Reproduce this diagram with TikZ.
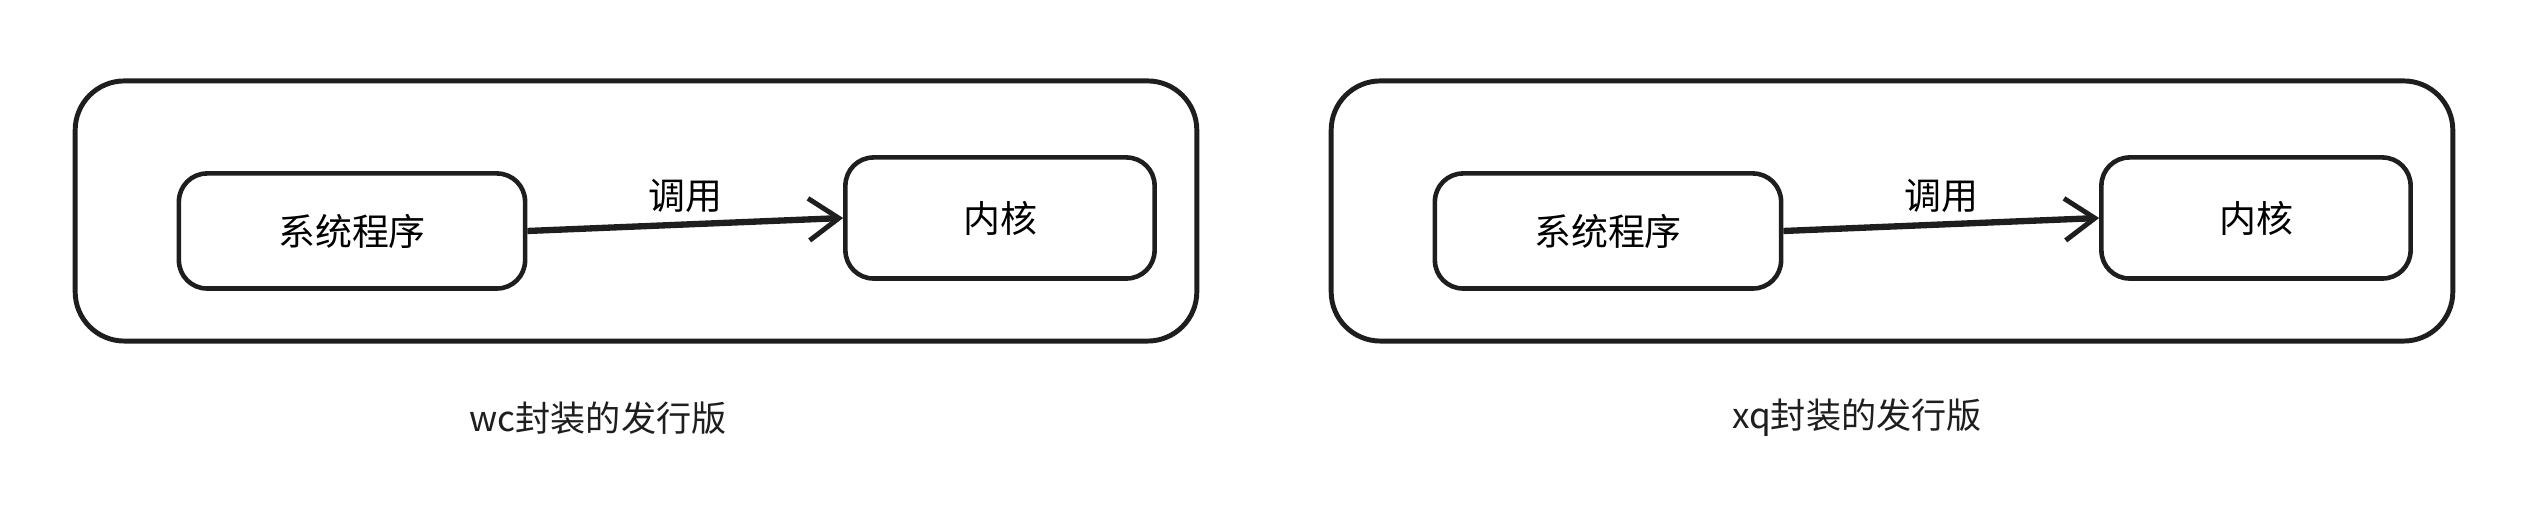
\documentclass[tikz,border=0pt]{standalone}
\usepackage{fontspec}
\setmainfont{Noto Sans CJK SC}
\usepackage{xcolor}
\usetikzlibrary{positioning,arrows.meta}
\definecolor{ink}{HTML}{1E1E1E}
\tikzset{
  distro/.style={rectangle,draw=ink,line width=1.4pt,rounded corners=14pt,
    minimum width=11.21cm,minimum height=2.6cm},
  box/.style={rectangle,draw=ink,line width=1.3pt,rounded corners=8pt,
    align=center,font=\fontsize{10.5}{12}\selectfont},
  fl/.style={-{Straight Barb[length=3mm,width=4.2mm,line width=1.4pt]},draw=ink,line width=1.8pt},
  captext/.style={font=\fontsize{10}{12}\selectfont,text=ink},
}
\begin{document}
\begin{tikzpicture}[x=0.01cm,y=-0.01cm]
  \useasboundingbox (0,0) rectangle (2547,510);
  % wc
  \node[distro] (distA) at (636,211) {};
  \node[box,minimum width=3.46cm,minimum height=1.15cm] (sysA) at (352,231) {系统程序};
  \node[box,minimum width=3.09cm,minimum height=1.21cm] (kernA) at (1000,218) {内核};
  \draw[fl] (sysA.east)--node[above=-1pt,font=\fontsize{10.5}{12}\selectfont]{调用}(kernA.west);
  \node[captext] (capA) at (598,418) {wc封装的发行版};
  % xq
  \node[distro] (distB) at (1892,211) {};
  \node[box,minimum width=3.46cm,minimum height=1.15cm] (sysB) at (1608,231) {系统程序};
  \node[box,minimum width=3.09cm,minimum height=1.21cm] (kernB) at (2256,218) {内核};
  \draw[fl] (sysB.east)--node[above=-1pt,font=\fontsize{10.5}{12}\selectfont]{调用}(kernB.west);
  \node[captext] (capB) at (1857,418) {xq封装的发行版};
\end{tikzpicture}
\end{document}
